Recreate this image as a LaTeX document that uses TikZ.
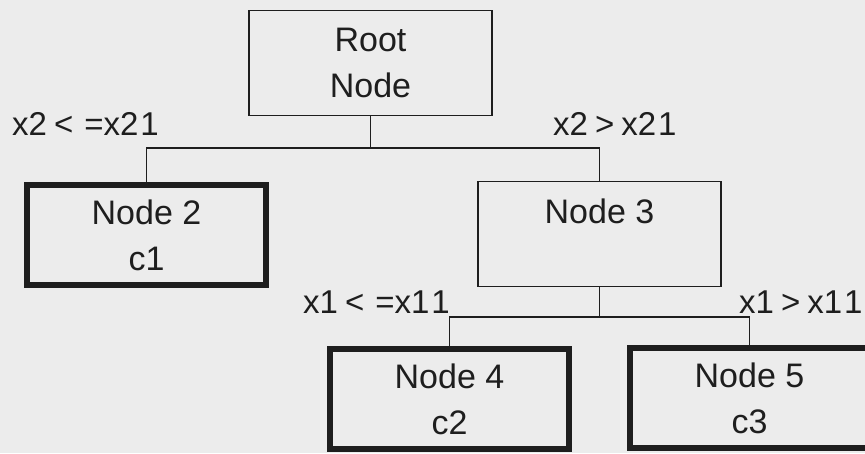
\documentclass[tikz,border=0pt]{standalone}
\usepackage{fontspec}
\setmainfont{Liberation Sans}
\usetikzlibrary{positioning}
\definecolor{scanbg}{RGB}{236,236,236}
\definecolor{ink}{RGB}{30,30,30}
\tikzset{
  splitbox/.style={draw=ink, line width=1.5pt, rectangle, align=center,
    minimum width=243pt, minimum height=105pt, inner sep=0pt,
    font=\fontsize{34}{46}\selectfont, text=ink},
  leafbox/.style={splitbox, line width=6.5pt,
    minimum width=239pt, minimum height=100pt},
  branch/.style={draw=ink, line width=1.5pt},
  cond/.style={anchor=base west, inner sep=0pt,
    font=\fontsize{33}{38}\selectfont, text=ink}
}
\begin{document}
\begin{tikzpicture}[x=1pt,y=-1pt]
  \fill[scanbg] (0,0) rectangle (865,453);
  \useasboundingbox (0,0) rectangle (865,453);
  \clip (0,0) rectangle (865,453);
  % boxes
  \node[splitbox] (root) at (370.5,63) {Root\\Node};
  \node[leafbox] (n2) at (146.5,235) {Node 2\\c1};
  \node[splitbox] (n3) at (599.5,234) {Node 3\\\mbox{}};
  \node[leafbox] (n4) at (449.5,399) {Node 4\\c2};
  \node[leafbox] (n5) at (749.5,398) {Node 5\\c3};
  % split levels
  \coordinate (lvl1) at (0,148);
  \coordinate (lvl2) at (0,317);
  \draw[branch] (root.south) -- (root.south |- lvl1) -| (n2.north);
  \draw[branch] (root.south |- lvl1) -| (n3.north);
  \draw[branch] (n3.south) -- (n3.south |- lvl2) -| (n4.north);
  \draw[branch] (n3.south |- lvl2) -| (n5.north);
  % conditions
  \node[cond] (c21le) at (12,135) {x2\kern7pt<\kern11pt=x2\kern2pt1};
  \node[cond] (c21gt) at (553,135) {x2\kern7pt>\kern7pt x2\kern2pt1};
  \node[cond] (c11le) at (303,313) {x1\kern7pt<\kern11pt=x1\kern2pt1};
  \node[cond] (c11gt) at (739,313) {x1\kern7pt>\kern7pt x1\kern2pt1};
\end{tikzpicture}
\end{document}
